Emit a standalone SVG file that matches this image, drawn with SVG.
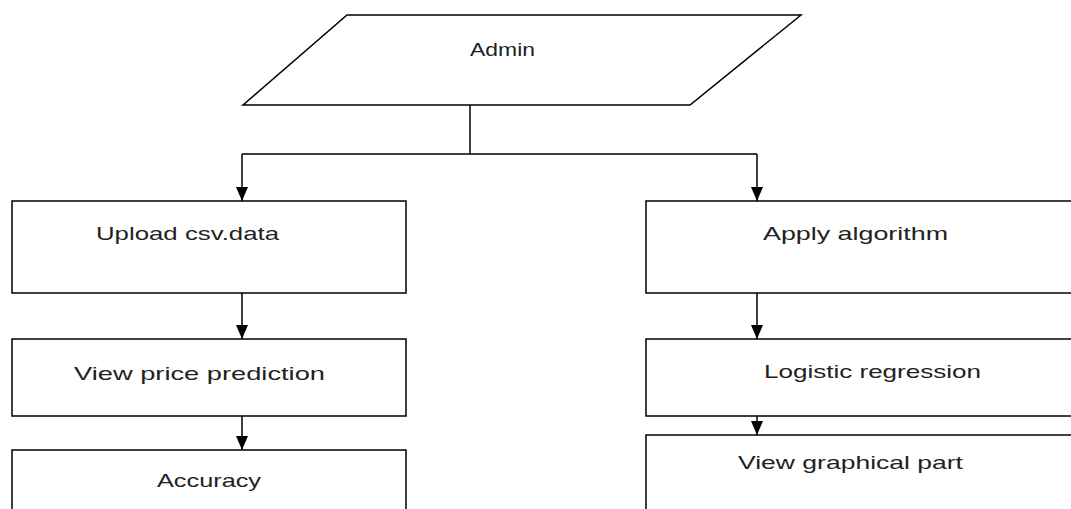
<svg xmlns="http://www.w3.org/2000/svg" width="1071" height="509" viewBox="0 0 1071 509">
  <defs>
    <marker id="arrow" viewBox="0 0 14 12" refX="14" refY="6" markerWidth="14" markerHeight="12" markerUnits="userSpaceOnUse" orient="auto">
      <path d="M0,0 L14,6 L0,12 Z" fill="#000"/>
    </marker>
    <style>
      .shape { fill: #fff; stroke: #000; stroke-width: 1.5; }
      .edge { fill: none; stroke: #000; stroke-width: 1.5; }
      .arrowed { marker-end: url(#arrow); }
      .label { font-family: "Liberation Sans", Arial, sans-serif; font-size: 19px; fill: #222; }
    </style>
  </defs>
  <rect width="1071" height="509" fill="#fff"/>

  <!-- connectors -->
  <g id="connectors">
    <path class="edge" d="M470,105 V154"/>
    <path class="edge" d="M242,154 H757"/>
    <path class="edge arrowed" d="M242,154 V201"/>
    <path class="edge arrowed" d="M757,154 V201"/>
    <path class="edge arrowed" d="M242,293 V339"/>
    <path class="edge arrowed" d="M242,416 V450"/>
    <path class="edge arrowed" d="M757,293 V339"/>
    <path class="edge arrowed" d="M757,416 V435"/>
  </g>

  <!-- Admin input -->
  <g id="admin">
    <polygon class="shape" points="347,15 801,15 690,105 243,105"/>
    <text class="label" x="470" y="56" textLength="65" lengthAdjust="spacingAndGlyphs">Admin</text>
  </g>

  <!-- left column -->
  <g id="upload">
    <rect class="shape" x="12" y="201" width="394" height="92"/>
    <text class="label" x="96" y="240" textLength="183" lengthAdjust="spacingAndGlyphs">Upload csv.data</text>
  </g>
  <g id="view-price">
    <rect class="shape" x="12" y="339" width="394" height="77"/>
    <text class="label" x="74" y="380" textLength="251" lengthAdjust="spacingAndGlyphs">View price prediction</text>
  </g>
  <g id="accuracy">
    <rect class="shape" x="12" y="450" width="394" height="70"/>
    <text class="label" x="157" y="487" textLength="104" lengthAdjust="spacingAndGlyphs">Accuracy</text>
  </g>

  <!-- right column -->
  <g id="apply">
    <rect class="shape" x="646" y="201" width="440" height="92"/>
    <text class="label" x="763" y="240" textLength="185" lengthAdjust="spacingAndGlyphs">Apply algorithm</text>
  </g>
  <g id="logistic">
    <rect class="shape" x="646" y="339" width="440" height="77"/>
    <text class="label" x="764" y="378" textLength="217" lengthAdjust="spacingAndGlyphs">Logistic regression</text>
  </g>
  <g id="graphical">
    <rect class="shape" x="646" y="435" width="440" height="90"/>
    <text class="label" x="738" y="469" textLength="225" lengthAdjust="spacingAndGlyphs">View graphical part</text>
  </g>
</svg>
